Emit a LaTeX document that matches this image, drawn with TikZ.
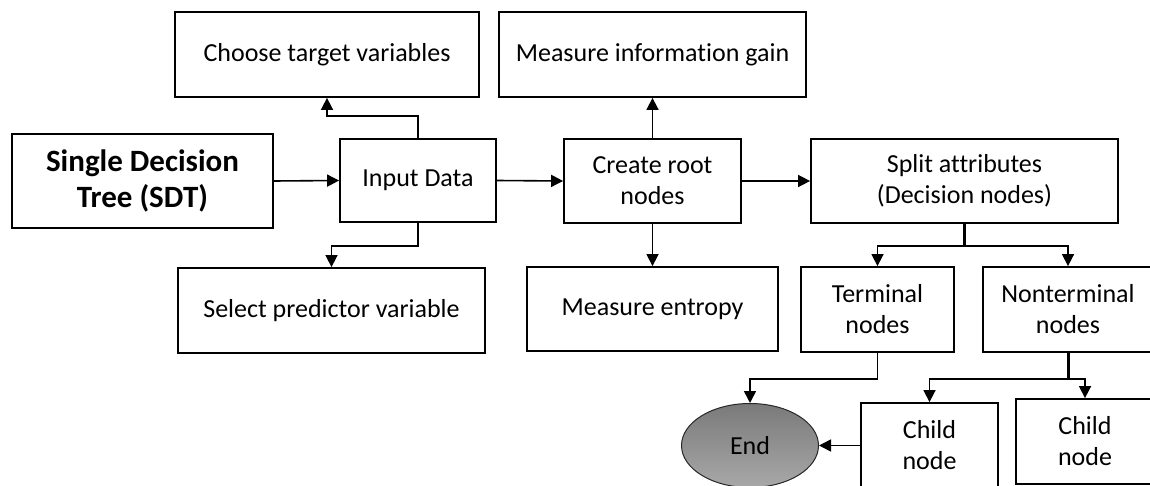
\documentclass[tikz,border=0pt]{standalone}
\usepackage{fontspec}
\setmainfont{Carlito}[Ligatures=NoCommon]
\usetikzlibrary{arrows.meta,shapes.geometric,calc}

\tikzset{
  box/.style={draw=black, line width=1.8pt, fill=white, inner sep=0pt,
    align=center, font=\fontsize{26}{31}\selectfont},
  arr/.style={draw=black, line width=1.6pt, -{Triangle[length=12pt,width=12pt]}},
  trunk/.style={draw=black, line width=3pt},
  endnode/.style={ellipse, draw=black!85, line width=1pt, inner sep=0pt,
    top color={rgb,255:red,122;green,122;blue,122},
    bottom color={rgb,255:red,168;green,168;blue,168},
    font=\fontsize{26}{31}\selectfont}
}

\begin{document}
\begin{tikzpicture}[x=1pt,y=-1pt]
  \path[use as bounding box] (0,0) rectangle (1150,486);
  \clip (0,0) rectangle (1150,486);

  % main row
  \node[box, minimum width=261pt, minimum height=94pt,
        font=\fontsize{31}{36}\selectfont\bfseries] (sdt) at (142.5,181)
        {Single Decision\\Tree (SDT)};
  \node[box, minimum width=156pt, minimum height=83pt] (input) at (418,180.5) {Input Data};
  \node[box, minimum width=177pt, minimum height=84pt] (root) at (652.5,181) {Create root\\nodes};
  \node[box, minimum width=307pt, minimum height=84pt] (split) at (964.5,181)
        {Split attributes\\(Decision nodes)};

  % side boxes
  \node[box, minimum width=304pt, minimum height=85pt] (choose) at (327,54.5) {Choose target variables};
  \node[box, minimum width=307pt, minimum height=85pt] (select) at (331.5,310.5) {Select predictor variable};
  \node[box, minimum width=307pt, minimum height=85pt] (gain) at (652.5,54.5) {Measure information gain};
  \node[box, minimum width=251pt, minimum height=84pt] (entropy) at (652.5,309) {Measure entropy};

  % tree part
  \node[box, minimum width=153pt, minimum height=85pt] (terminal) at (877.5,309.5) {Terminal\\nodes};
  \node[box, minimum width=170pt, minimum height=85pt] (nonterminal) at (1068,309.5) {Nonterminal\\nodes};
  \node[box, minimum width=137pt, minimum height=85pt] (child1) at (929.5,445.5) {Child\\node};
  \node[box, minimum width=138pt, minimum height=85pt] (child2) at (1085,441.5) {Child\\node};
  \node[endnode, minimum width=137pt, minimum height=84pt] (end) at (750,445.5) {End};

  % connectors
  \draw[arr] (sdt.east) -- (input.west);
  \draw[arr] (input.east) -- (root.west);
  \draw[arr] (root.east) -- (split.west);
  \draw[arr] (input.north) -- ++(0,-22) -| (choose.south);
  \draw[arr] (input.south) -- ++(0,23) -| (select.north);
  \draw[arr] (root.north) -- (gain.south);
  \draw[arr] (root.south) -- (entropy.north);

  \draw[trunk] (split.south) -- ++(0,22) coordinate (sj);
  \draw[arr] (sj) -| (terminal.north);
  \draw[arr] (sj) -| (nonterminal.north);

  \draw[arr] (terminal.south) -- ++(0,26) -| (end.north);

  \draw[trunk] (nonterminal.south) -- ++(0,26) coordinate (nj);
  \draw[arr] (nj) -| (child1.north);
  \draw[arr] (nj) -| (child2.north);

  \draw[arr] (child1.west) -- (end.east);
\end{tikzpicture}
\end{document}
